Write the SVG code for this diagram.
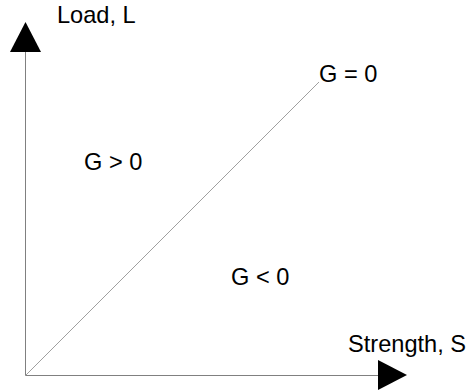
<svg xmlns="http://www.w3.org/2000/svg" width="469" height="390" viewBox="0 0 469 390">
<style>
text{font-family:"Liberation Sans",Arial,sans-serif;font-size:23.6px;fill:#000}
.axis{stroke:#808080;stroke-width:1;fill:none}
.diag{stroke:#a0a0a0;stroke-width:1;fill:none}
.head{fill:#000}
</style>
<rect width="469" height="390" fill="#fff"/>
<g id="connectors">
<line class="axis" x1="25.5" y1="375.5" x2="25.5" y2="50"/>
<polygon class="head" points="25.5,22 10,52 41,52"/>
<line class="axis" x1="25.5" y1="375.5" x2="380" y2="375.5"/>
<polygon class="head" points="378,360 407,375 378,390"/>
<line class="diag" x1="25.5" y1="375.5" x2="319" y2="82"/>
</g>
<g id="label-load"><text x="57" y="22.5">Load, L</text></g>
<g id="label-strength"><text x="348" y="351.5">Strength, S</text></g>
<g id="label-g0"><text x="319" y="81.5">G = 0</text></g>
<g id="label-gpos"><text x="84" y="169.5">G &gt; 0</text></g>
<g id="label-gneg"><text x="231" y="285">G &lt; 0</text></g>
</svg>
